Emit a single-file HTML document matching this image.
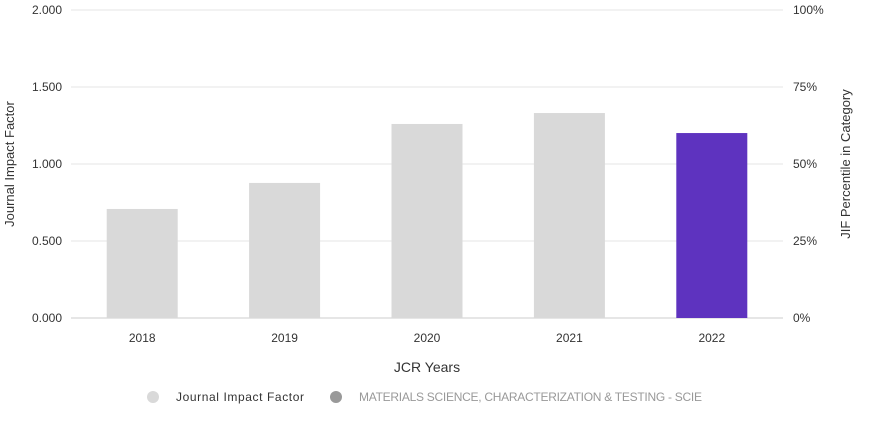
<!DOCTYPE html>
<html><head><meta charset="utf-8"><style>
body{margin:0;background:#fff;width:876px;height:431px;overflow:hidden}
svg{font-family:"Liberation Sans",sans-serif}
</style></head><body>
<svg id="chart" width="876" height="431">
<g id="grid"></g>
<g id="bars"></g>
<g id="axes"></g>
<text x="14" y="164" transform="rotate(-90 14 164)" text-anchor="middle" font-size="13" fill="#333">Journal Impact Factor</text>
<text x="850" y="164" transform="rotate(-90 850 164)" text-anchor="middle" font-size="13" fill="#333">JIF Percentile in Category</text>
<text x="427" y="372" text-anchor="middle" font-size="14" fill="#333">JCR Years</text>
<g><circle cx="153" cy="397" r="6" fill="#d9d9d9"/><text x="176" y="401" font-size="12" fill="#333" textLength="128">Journal Impact Factor</text></g>
<g><circle cx="336" cy="397" r="6" fill="#999"/><text x="359" y="401" font-size="12" fill="#999" textLength="343">MATERIALS SCIENCE, CHARACTERIZATION &amp; TESTING - SCIE</text></g>
</svg>
<script>
const categories=["2018","2019","2020","2021","2022"];
const jifValues=[0.708,0.877,1.260,1.331,1.201];
const leftTicks=["0.000","0.500","1.000","1.500","2.000"];
const leftTickValues=[0,0.5,1,1.5,2];
const rightTicks=["0%","25%","50%","75%","100%"];
const NS="http://www.w3.org/2000/svg";
const x0=71,x1=783,yTop=10,yBot=318,yMax=2;
const band=(x1-x0)/categories.length;
function xC(i){return x0+band*(i+0.5);}
function y(v){return yBot-(v/yMax)*(yBot-yTop);}
function mk(t,a,p){const e=document.createElementNS(NS,t);for(const k in a)e.setAttribute(k,a[k]);p.appendChild(e);return e;}
const grid=document.getElementById('grid'),bars=document.getElementById('bars'),axes=document.getElementById('axes');
leftTickValues.forEach((v,i)=>{
 const l=mk('line',{x1:x0,x2:x1,y1:y(v),y2:y(v),stroke:i==0?'#ccc':'#e6e6e6'},grid);
 
 
 const t=mk('text',{x:62,y:y(v)+4,'text-anchor':'end','font-size':12,fill:'#333'},axes);t.textContent=leftTicks[i];
 
 
 const r=mk('text',{x:793,y:y(v)+4,'font-size':12,fill:'#333'},axes);r.textContent=rightTicks[i];
 
 
});
const bw=71;
jifValues.forEach((v,i)=>{
 const last=i==jifValues.length-1;
 const b=mk('rect',{x:xC(i)-bw/2,y:y(v),width:bw,height:yBot-y(v),fill:last?'#5e33bf':'#d9d9d9'},bars);
 
 
 const t=mk('text',{x:xC(i),y:342,'text-anchor':'middle','font-size':12,fill:'#333'},axes);t.textContent=categories[i];
 
 
});
</script>
</body></html>
